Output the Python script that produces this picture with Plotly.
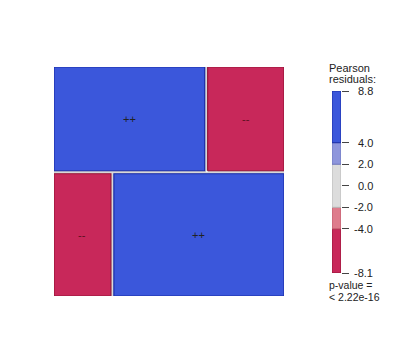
import plotly.graph_objects as go

# ---- data ----
row_levels = ["A", "B"]
col_levels = ["1", "2"]
counts = [[454, 230], [202, 604]]
residuals = [[8.8, -7.8], [-8.1, 7.2]]
cell_labels = [["++", "--"], ["--", "++"]]

legend_breaks = [-8.1, -4.0, -2.0, 0.0, 2.0, 4.0, 8.8]
legend_tick_labels = ["-8.1", "-4.0", "-2.0", "0.0", "2.0", "4.0", "8.8"]
legend_seg_lo = [-8.1, -4.0, -2.0, 2.0, 4.0]
legend_seg_hi = [-4.0, -2.0, 2.0, 4.0, 8.8]
legend_title_lines = ["Pearson", "residuals:"]
pvalue_lines = ["p-value =", "< 2.22e-16"]

# ---- styles ----
def shade(r):
    if r > 4:
        return "#3b57db", "#1b2ea8"
    if r > 2:
        return "#8e96dc", "#6f78c0"
    if r > -2:
        return "#dcdcdc", "#b8b8b8"
    if r > -4:
        return "#de7c8c", "#c05a6c"
    return "#c8285a", "#961538"

seg_colors = [shade(m) for m in [(a + b) / 2 for a, b in zip(legend_seg_lo, legend_seg_hi)]]

# page has 8px body margin: figure occupies screen (8..400, 8..364)
OFF = 8
W, H = 400 - OFF, 364 - OFF

def px(x):
    return (x - OFF) / W

def py(y):
    return (H - (y - OFF)) / H

gap = 0.0132
fig = go.Figure()

N = sum(sum(r) for r in counts)
row_tot = [sum(r) for r in counts]
top = 1 + gap
annos = []
for i, row in enumerate(counts):
    h = row_tot[i] / N
    y1 = top
    y0 = top - h
    x = 0.0
    for j, n in enumerate(row):
        w = n / row_tot[i]
        x0, x1 = x, x + w
        fill, border = shade(residuals[i][j])
        xs = [x0, x1, x1, x0, x0]
        ys = [y0, y0, y1, y1, y0]
        fig.add_trace(go.Scatter(x=xs, y=ys, mode="lines",
                                 line=dict(color="#cfcfcf", width=3),
                                 hoverinfo="skip", showlegend=False))
        fig.add_trace(go.Scatter(x=xs, y=ys, mode="lines", fill="toself",
                                 fillcolor=fill, line=dict(color=border, width=1.2),
                                 hoverinfo="skip", showlegend=False))
        annos.append(dict(x=(x0 + x1) / 2, y=(y0 + y1) / 2, xref="x", yref="y",
                          text=cell_labels[i][j], showarrow=False,
                          font=dict(size=11, color="#222222" if residuals[i][j] > 0 else "#5a1020")))
        x = x1 + gap
    top = y0 - gap

# legend bar
for lo, hi, (fc, bc) in zip(legend_seg_lo, legend_seg_hi, seg_colors):
    fig.add_trace(go.Bar(x=[0], y=[hi - lo], base=[lo], width=1,
                         marker=dict(color=fc, line=dict(color=bc, width=1)),
                         xaxis="x2", yaxis="y2", hoverinfo="skip", showlegend=False))

for v, t in zip(legend_breaks, legend_tick_labels):
    annos.append(dict(x=px(375), y=v, xref="paper", yref="y2", text=t, showarrow=False,
                      xanchor="right", yanchor="middle",
                      font=dict(size=11, color="#222222")))

for k, t in enumerate(legend_title_lines):
    annos.append(dict(x=px(327), y=py(68 + 11 * k), xref="paper", yref="paper", text=t,
                      showarrow=False, xanchor="left", yanchor="middle",
                      font=dict(size=11, color="#222222")))
for k, t in enumerate(pvalue_lines):
    annos.append(dict(x=px(327), y=py(285 + 12 * k), xref="paper", yref="paper", text=t,
                      showarrow=False, xanchor="left", yanchor="middle",
                      font=dict(size=10.5, color="#222222")))

fig.update_layout(
    width=W, height=H, margin=dict(l=0, r=0, t=0, b=0),
    paper_bgcolor="white", plot_bgcolor="white",
    font=dict(family="Liberation Sans, Arial, sans-serif"),
    barmode="overlay",
    xaxis=dict(domain=[px(54), px(284)], range=[0, 1 + gap], visible=False, fixedrange=True),
    yaxis=dict(domain=[py(296), py(67)], range=[0, 1 + gap], visible=False, fixedrange=True),
    xaxis2=dict(domain=[px(332), px(341)], range=[-0.5, 0.5], visible=False, anchor="y2"),
    yaxis2=dict(domain=[py(273), py(91)], range=[-8.1, 8.8], anchor="x2", side="right",
                showgrid=False, zeroline=False, showline=False, ticks="outside", ticklen=7,
                tickcolor="#444444", tickvals=legend_breaks, showticklabels=False),
    annotations=annos,
)

fig.write_html("out.html")
